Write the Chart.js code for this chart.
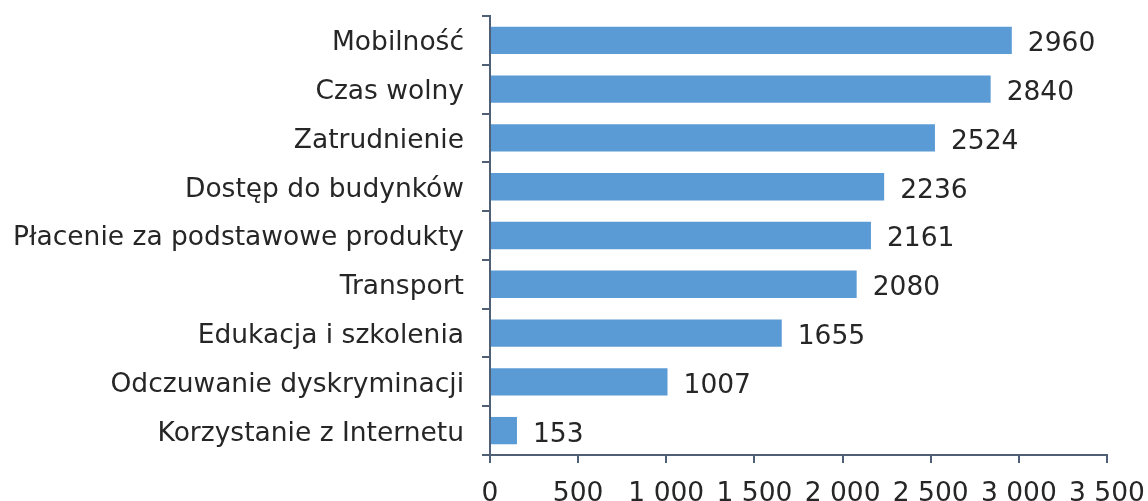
<!DOCTYPE html>
<html>
<head>
<meta charset="utf-8">
<script src="https://cdn.jsdelivr.net/npm/chart.js@4.4.1/dist/chart.umd.min.js"></script>
<style>
  html, body { margin: 0; padding: 0; background: #fff; }
  #wrap { width: 1148px; height: 501px; }
</style>
</head>
<body>
<div id="wrap"><canvas id="barChart"></canvas></div>
<script>
const categories = [
    'Mobilność',
    'Czas wolny',
    'Zatrudnienie',
    'Dostęp do budynków',
    'Płacenie za podstawowe produkty',
    'Transport',
    'Edukacja i szkolenia',
    'Odczuwanie dyskryminacji',
    'Korzystanie z Internetu'
];
const values = [2960, 2840, 2524, 2236, 2161, 2080, 1655, 1007, 153];
const xTicks = [0, 500, 1000, 1500, 2000, 2500, 3000, 3500];

const axisColor = '#4f5f75';
const textColor = '#262626';
const fontFamily = '"DejaVu Sans", Verdana, sans-serif';
const fontSize = 26.5;

const fmt = (v) => String(v).replace(/\B(?=(\d{3})+(?!\d))/g, ' ');

// draws the value next to the end of each bar
const valueLabels = {
    id: 'valueLabels',
    afterDatasetsDraw(chart) {
        const c = chart.ctx;
        const meta = chart.getDatasetMeta(0);
        c.save();
        c.font = fontSize + 'px ' + fontFamily;
        c.fillStyle = textColor;
        c.textBaseline = 'middle';
        c.textAlign = 'left';
        meta.data.forEach((bar, i) => {
            c.fillText(values[i], bar.x + 16, bar.y + 4);
        });
        c.restore();
    }
};

document.addEventListener('DOMContentLoaded', function() {
    const ctx = document.getElementById('barChart').getContext('2d');

    new Chart(ctx, {
        type: 'bar',
        data: {
            labels: categories,
            datasets: [{
                data: values,
                backgroundColor: '#5b9bd5',
                borderWidth: 0,
                barPercentage: 0.56,
                categoryPercentage: 1
            }]
        },
        options: {
            indexAxis: 'y',
            responsive: true,
            maintainAspectRatio: false,
            animation: false,
            layout: {
                padding: { top: 16, right: 41, left: 0, bottom: 0 }
            },
            scales: {
                x: {
                    min: 0,
                    max: 3500,
                    afterBuildTicks: (scale) => {
                        scale.ticks = xTicks.map(v => ({ value: v }));
                    },
                    afterFit: (scale) => {
                        scale.height = 46;
                        scale.paddingLeft = 0;
                        scale.paddingRight = 0;
                    },
                    grid: {
                        drawOnChartArea: false,
                        drawTicks: true,
                        tickLength: 8,
                        color: axisColor,
                        lineWidth: 2
                    },
                    border: { display: true, color: axisColor, width: 2 },
                    ticks: {
                        color: textColor,
                        font: { family: fontFamily, size: fontSize },
                        padding: 15,
                        maxRotation: 0,
                        callback: (value) => fmt(value)
                    }
                },
                y: {
                    afterFit: (scale) => {
                        scale.width = 490;
                        scale.paddingTop = 0;
                        scale.paddingBottom = 0;
                    },
                    grid: {
                        offset: true,
                        drawOnChartArea: false,
                        drawTicks: true,
                        tickLength: 8,
                        color: axisColor,
                        lineWidth: 2
                    },
                    border: { display: true, color: axisColor, width: 2 },
                    ticks: {
                        color: textColor,
                        font: { family: fontFamily, size: fontSize },
                        padding: 18,
                        labelOffset: 3
                    }
                }
            },
            plugins: {
                legend: { display: false },
                tooltip: { enabled: false }
            }
        },
        plugins: [valueLabels]
    });
});
</script>
</body>
</html>
